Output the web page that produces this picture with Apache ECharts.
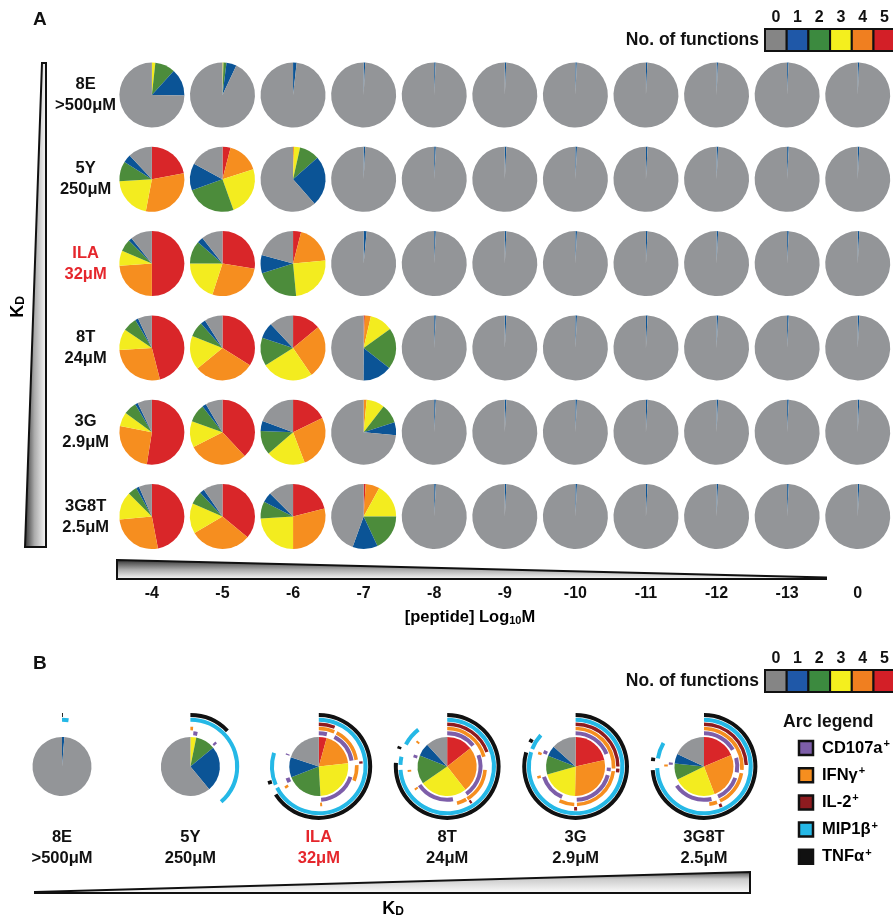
<!DOCTYPE html>
<html><head><meta charset="utf-8">
<script src="https://cdn.jsdelivr.net/npm/echarts@6/dist/echarts.min.js"></script>
<style>html,body{margin:0;padding:0;background:#fff}#c{width:893px;height:920px}</style>
</head><body><div id="c"></div>
<script>
const FONT = '"Liberation Sans", Arial, Helvetica, sans-serif';

// ---------- data ----------
const functionCounts = ['0', '1', '2', '3', '4', '5'];
const legendColors = ['#858585', '#1f58a8', '#3c8a3f', '#f4ef1e', '#f07f20', '#d31f27']; // 0..5 functions
// slice order inside every pie: 5,4,3,2,1,0 functions (clockwise from 12 o'clock)
const pieColors = ['#d92629', '#f68e1f', '#f3ec1f', '#4c8c3b', '#0b5496', '#939598'];

const peptideLabels = ['-4', '-5', '-6', '-7', '-8', '-9', '-10', '-11', '-12', '-13', '0'];
const ligandNames = ['8E', '5Y', 'ILA', '8T', '3G', '3G8T'];
const ligandKd = ['>500μM', '250μM', '32μM', '24μM', '2.9μM', '2.5μM'];

// Panel A: % of cells with [5,4,3,2,1,0] functions, one pie per peptide concentration
const row8E = [
  [0, 0, 1.7, 10, 13.5, 74.8], [0, 0, 0.5, 1.5, 5, 93], [0, 0, 0, 0, 1.8, 98.2], [0, 0, 0, 0, 0.8, 99.2],
  [0, 0, 0, 0, 0.7, 99.3], [0, 0, 0, 0, 0.7, 99.3], [0, 0, 0, 0, 0.7, 99.3], [0, 0, 0, 0, 0.7, 99.3],
  [0, 0, 0, 0, 0.7, 99.3], [0, 0, 0, 0, 0.7, 99.3], [0, 0, 0, 0, 0.7, 99.3]
];
const row5Y = [
  [22, 31, 21, 10, 4, 12], [4, 16, 24.5, 25, 13.5, 17], [0, 0.5, 3, 10, 25, 61.5], [0, 0, 0, 0, 0.8, 99.2],
  [0, 0, 0, 0, 0.8, 99.2], [0, 0, 0, 0, 0.8, 99.2], [0, 0, 0, 0, 0.8, 99.2], [0, 0, 0, 0, 0.8, 99.2],
  [0, 0, 0, 0, 0.8, 99.2], [0, 0, 0, 0, 0.8, 99.2], [0, 0, 0, 0, 0.8, 99.2]
];
const rowILA = [
  [50, 24, 7.5, 6, 1.7, 10.8], [27.5, 27.5, 20, 11.4, 3, 10.6], [4, 19.5, 25, 21.7, 9, 20.8], [0, 0, 0, 0, 1.5, 98.5],
  [0, 0, 0, 0, 0.8, 99.2], [0, 0, 0, 0, 0.8, 99.2], [0, 0, 0, 0, 0.8, 99.2], [0, 0, 0, 0, 0.8, 99.2],
  [0, 0, 0, 0, 0.8, 99.2], [0, 0, 0, 0, 0.8, 99.2], [0, 0, 0, 0, 0.8, 99.2]
];
const row8T = [
  [46, 28, 10.5, 7, 1.5, 7], [34, 30, 17, 7.5, 2.5, 9], [14, 26.5, 25.5, 14, 8, 12], [0.6, 3, 11.5, 20.5, 14.5, 49.9],
  [0, 0, 0, 0, 0.8, 99.2], [0, 0, 0, 0, 0.8, 99.2], [0, 0, 0, 0, 0.8, 99.2], [0, 0, 0, 0, 0.8, 99.2],
  [0, 0, 0, 0, 0.8, 99.2], [0, 0, 0, 0, 0.8, 99.2], [0, 0, 0, 0, 0.8, 99.2]
];
const row3G = [
  [52.5, 25.5, 7, 6.4, 1.4, 7.2], [38, 29.5, 13, 9, 2, 8.5], [17.8, 26.4, 19.4, 12, 5, 19.4], [0, 1.5, 9, 9.5, 6.5, 73.5],
  [0, 0, 0, 0, 0.8, 99.2], [0, 0, 0, 0, 0.8, 99.2], [0, 0, 0, 0, 0.8, 99.2], [0, 0, 0, 0, 0.8, 99.2],
  [0, 0, 0, 0, 0.8, 99.2], [0, 0, 0, 0, 0.8, 99.2], [0, 0, 0, 0, 0.8, 99.2]
];
const row3G8T = [
  [47, 26.5, 14, 4.5, 1.5, 6.5], [36, 30.5, 15, 6.5, 2.3, 9.7], [21, 29, 24, 8.5, 5, 12.5], [1, 7, 17, 18, 12.5, 44.5],
  [0, 0, 0, 0, 0.8, 99.2], [0, 0, 0, 0, 0.8, 99.2], [0, 0, 0, 0, 0.8, 99.2], [0, 0, 0, 0, 0.8, 99.2],
  [0, 0, 0, 0, 0.8, 99.2], [0, 0, 0, 0, 0.8, 99.2], [0, 0, 0, 0, 0.8, 99.2]
];
const panelARows = [row8E, row5Y, rowILA, row8T, row3G, row3G8T];

// Panel B pies [5,4,3,2,1,0 functions] %
const panelBPies = [
  [0, 0, 0, 0, 1.3, 98.7],
  [0, 0, 3.2, 10.8, 25, 61],
  [4.3, 19, 25.8, 20, 11, 19.9],
  [14.4, 25, 26, 15.7, 7, 11.9],
  [21.4, 28.9, 20.3, 10.3, 5.7, 13.4],
  [18.6, 25.6, 23.6, 8.8, 5.4, 18]
];

// Panel B arcs: angular ranges (degrees clockwise from 12 o'clock), one list per ligand
const arcMarkers = ['CD107a', 'IFNγ', 'IL-2', 'MIP1β', 'TNFα'];
const arcColors = ['#7d5ea9', '#f68e1f', '#8e1b1f', '#25b8e6', '#111111'];
const arcsCD107a = [
  [], [[5, 12], [45, 49]],
  [[0, 14], [28, 80], [108, 176], [242, 250], [290, 292]],
  [[0, 51], [70, 145], [170, 236], [285, 290]],
  [[0, 68], [92, 98], [105, 178], [204, 252], [292, 298]],
  [[0, 60], [75, 100], [110, 155], [167, 235], [273, 277]]
];
const arcsIFNg = [
  [], [[0, 4]],
  [[0, 24], [28, 80], [88, 112], [175, 178], [236, 240]],
  [[0, 75], [95, 148], [150, 165], [233, 236], [262, 265], [308, 311]],
  [[0, 93], [97, 178], [182, 205], [252, 256], [288, 292]],
  [[0, 95], [100, 155], [160, 172], [270, 273]]
];
const arcsIL2 = [
  [], [],
  [[0, 22], [83, 86]],
  [[0, 70], [145, 148]],
  [[0, 90], [93, 98], [178, 182]],
  [[0, 88], [155, 159]]
];
const arcsMIP1b = [
  [[0, 8]], [[0, 139]],
  [[0, 243], [247, 287]],
  [[0, 266], [272, 282], [298, 322]],
  [[0, 288], [292, 312]],
  [[0, 268], [280, 300]]
];
const arcsTNFa = [
  [[0, 1]], [[0, 46]],
  [[0, 237], [250, 254]],
  [[0, 274], [290, 293]],
  [[0, 286], [298, 302]],
  [[0, 266], [276, 280]]
];
const arcSets = [arcsCD107a, arcsIFNg, arcsIL2, arcsMIP1b, arcsTNFa];

// ---------- layout/style ----------
const ringRadii = [[31.3, 35.3], [36.2, 39.8], [40.6, 44], [44.8, 48.8], [49.4, 53.4]];
const bold = (size, color) => ({ fontFamily: FONT, fontWeight: 'bold', fontSize: size, color: color || '#111' });
const RED = '#e5262c';

const chart = echarts.init(document.getElementById('c'), null, { renderer: 'canvas' });

function ligandLabel(i) {
  const k = i === 2 ? 'r' : 'b';
  return '{' + k + '|' + ligandNames[i] + '}\n{' + k + '|' + ligandKd[i] + '}';
}
const ligandRich = (size, lh) => ({
  b: Object.assign(bold(size), { lineHeight: lh }),
  r: Object.assign(bold(size, RED), { lineHeight: lh })
});

function legendBoxes(x0, y0) {
  const els = [];
  const w = 21.7, h = 22;
  functionCounts.forEach((n, i) => {
    els.push({ type: 'rect', shape: { x: x0 + i * w, y: y0, width: w, height: h },
      style: { fill: legendColors[i], stroke: '#111', lineWidth: 2 } });
    els.push({ type: 'text', x: x0 + i * w + w / 2, y: y0 - 11,
      style: { text: n, align: 'center', verticalAlign: 'middle', font: 'bold 16px ' + FONT, fill: '#111' } });
  });
  els.push({ type: 'text', x: 759, y: y0 + h / 2,
    style: { text: 'No. of functions', align: 'right', verticalAlign: 'middle', font: 'bold 17.5px ' + FONT, fill: '#111' } });
  return els;
}

const graphics = [
  { type: 'text', x: 33, y: 20, style: { text: 'A', verticalAlign: 'middle', font: 'bold 19px ' + FONT, fill: '#111' } },
  { type: 'text', x: 33, y: 664, style: { text: 'B', verticalAlign: 'middle', font: 'bold 19px ' + FONT, fill: '#111' } },
  // vertical KD wedge
  { type: 'polygon', shape: { points: [[42, 63], [46, 63], [46, 547], [25, 547]] },
    style: { fill: new echarts.graphic.LinearGradient(0, 0, 1, 0, [{ offset: 0, color: '#2a2a2a' }, { offset: 0.45, color: '#aaa' }, { offset: 1, color: '#fff' }]),
      stroke: '#111', lineWidth: 2 } },
  { type: 'text', x: 18, y: 307, rotation: Math.PI / 2,
    style: { text: '{k|K}{d|D}', align: 'center', verticalAlign: 'middle',
      rich: { k: bold(18), d: Object.assign(bold(12), { verticalAlign: 'bottom', padding: [6, 0, 0, 0] }) } } },
  // horizontal concentration wedge
  { type: 'polygon', shape: { points: [[117, 560], [826, 577.5], [826, 579], [117, 579]] },
    style: { fill: new echarts.graphic.LinearGradient(0, 0, 0, 1, [{ offset: 0, color: '#2a2a2a' }, { offset: 0.5, color: '#aaa' }, { offset: 1, color: '#fff' }]),
      stroke: '#111', lineWidth: 2 } },
  { type: 'text', x: 470, y: 617,
    style: { text: '{t|[peptide] Log}{s|10}{t|M}', align: 'center', verticalAlign: 'middle',
      rich: { t: bold(16.5), s: Object.assign(bold(11), { verticalAlign: 'bottom', padding: [7, 0, 0, 0] }) } } },
  // panel B KD wedge
  { type: 'polygon', shape: { points: [[35, 892], [750, 872], [750, 893], [35, 893]] },
    style: { fill: new echarts.graphic.LinearGradient(0, 0, 0, 1, [{ offset: 0, color: '#444' }, { offset: 0.35, color: '#ccc' }, { offset: 1, color: '#fff' }]),
      stroke: '#111', lineWidth: 2 } },
  { type: 'text', x: 393, y: 909,
    style: { text: '{k|K}{d|D}', align: 'center', verticalAlign: 'middle',
      rich: { k: bold(18), d: Object.assign(bold(12), { verticalAlign: 'bottom', padding: [6, 0, 0, 0] }) } } },
  { type: 'text', x: 783, y: 722,
    style: { text: 'Arc legend', verticalAlign: 'middle', font: 'bold 17.5px ' + FONT, fill: '#111' } }
].concat(legendBoxes(765, 29)).concat(legendBoxes(765, 670));

arcMarkers.forEach((m, i) => {
  const y = 748 + i * 27.2;
  graphics.push({ type: 'rect', shape: { x: 799, y: y - 7, width: 14, height: 14 },
    style: { fill: arcColors[i], stroke: '#111', lineWidth: 2.5 } });
  graphics.push({ type: 'text', x: 822, y: y,
    style: { text: '{t|' + m + '}{p|+}', verticalAlign: 'middle',
      rich: { t: bold(16.5), p: Object.assign(bold(11), { verticalAlign: 'top', padding: [0, 0, 8, 1] }) } } });
});

chart.setOption({
  animation: false,
  grid: [
    { left: 116.6, top: 52.85, width: 778.8, height: 505.8 },
    { left: 62, top: 746.5, width: 642, height: 40 }
  ],
  xAxis: [
    { type: 'category', gridIndex: 0, data: peptideLabels,
      axisLine: { show: false }, axisTick: { show: false }, splitLine: { show: false },
      axisLabel: Object.assign(bold(16), { margin: 27, interval: 0 }) },
    { type: 'category', gridIndex: 1, data: ligandNames, boundaryGap: false,
      axisLine: { show: false }, axisTick: { show: false }, splitLine: { show: false },
      axisLabel: { margin: 40, interval: 0, formatter: (v, i) => ligandLabel(i), rich: ligandRich(16.5, 21) } }
  ],
  yAxis: [
    { type: 'category', gridIndex: 0, data: ligandNames, inverse: true,
      axisLine: { show: false }, axisTick: { show: false }, splitLine: { show: false },
      axisLabel: { margin: 31, align: 'center', interval: 0, formatter: (v, i) => ligandLabel(i), rich: ligandRich(16.5, 21) } },
    { type: 'value', gridIndex: 1, min: 0, max: 1, show: false }
  ],
  graphic: graphics
});

// ---------- pies placed through the axes ----------
const pieStyle = { type: 'pie', silent: true, animation: false, label: { show: false }, labelLine: { show: false },
  itemStyle: { borderWidth: 0 }, emphasis: { disabled: true }, startAngle: 90, clockwise: true };

function pieData(vals) {
  return vals.map((v, k) => ({ value: v, itemStyle: { color: pieColors[k] } }));
}
function ringData(arcs, color) {
  const d = [];
  let pos = 0;
  arcs.forEach(([s, e]) => {
    if (s > pos) d.push({ value: s - pos, itemStyle: { color: 'rgba(0,0,0,0)' } });
    d.push({ value: e - s, itemStyle: { color: color } });
    pos = e;
  });
  if (pos < 360) d.push({ value: 360 - pos, itemStyle: { color: 'rgba(0,0,0,0)' } });
  return d;
}

const series = [];
panelARows.forEach((row, j) => {
  row.forEach((vals, i) => {
    const c = chart.convertToPixel({ gridIndex: 0 }, [i, j]);
    series.push(Object.assign({}, pieStyle, { center: c, radius: [0, 32.5], data: pieData(vals) }));
  });
});
panelBPies.forEach((vals, i) => {
  const c = chart.convertToPixel({ gridIndex: 1 }, [i, 0.5]);
  series.push(Object.assign({}, pieStyle, { center: c, radius: [0, 29.5], data: pieData(vals) }));
  arcSets.forEach((set, m) => {
    series.push(Object.assign({}, pieStyle, { center: c, radius: ringRadii[m], data: ringData(set[i], arcColors[m]) }));
  });
});
chart.setOption({ series: series });
</script>
</body></html>
